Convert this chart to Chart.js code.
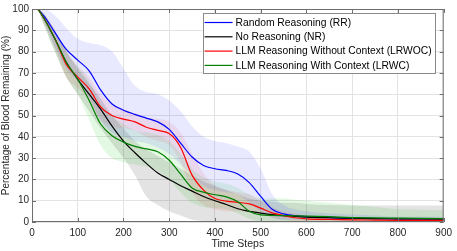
<!DOCTYPE html>
<html>
<head>
<meta charset="utf-8">
<script src="https://cdn.jsdelivr.net/npm/chart.js@4.4.1/dist/chart.umd.min.js"></script>
<style>
  html, body { margin: 0; padding: 0; background: #fff; }
</style>
</head>
<body>
<canvas id="blood-chart" width="457" height="251"></canvas>
<script>
// Time steps sampled from the figure
const steps = [0, 10, 25, 50, 75, 100, 125, 150, 175, 200, 225, 250, 275, 300, 325, 350, 375, 400, 425, 450, 475, 500, 525, 550, 575, 600, 650, 700, 750, 800, 850, 900];

// Random Reasoning (RR)
const rrMean  = [100, 100, 97, 89, 81, 76, 71, 62, 55.4, 52.5, 50.5, 48.8, 47, 43.5, 37, 30.5, 26.5, 25, 24.2, 22.5, 18.5, 12, 6, 3.8, 3, 2.5, 2, 1.8, 1.6, 1.5, 1.5, 1.5];
const rrUpper = [100, 100, 100, 97, 91, 86, 84, 83, 80, 72, 64, 61, 60, 57, 52, 45, 40, 38, 37, 35.5, 33, 25, 13, 8, 6, 5, 4, 3.5, 3, 2.5, 2.5, 2.5];
const rrLower = [100, 100, 95, 82, 72, 66, 58, 48, 42, 40, 38, 37, 35, 32, 27, 22, 17, 15, 14, 13, 9, 5, 2, 1, 1, 1, 1, 0.8, 0.8, 0.8, 0.8, 0.8];

// No Reasoning (NR)
const nrMean  = [100, 100, 96, 86, 75, 67, 60, 53, 45, 38, 32.5, 27.5, 23, 20, 17, 14.5, 12, 10, 8.2, 6.2, 5, 4.2, 3.5, 3, 2.6, 2.3, 2, 1.8, 1.6, 1.5, 1.4, 1.3];
const nrUpper = [100, 100, 98, 90, 80, 72, 65, 58, 50, 44, 38, 34, 31, 28, 25, 22, 19, 17, 15, 13, 11, 10, 9.5, 9, 9, 8.5, 8, 7.8, 7.8, 7.8, 7.8, 7.8];
const nrLower = [100, 100, 93, 80, 68, 60, 52, 44, 37, 30, 22, 12, 8, 5, 3, 1, 0.5, 0.3, 0, 0, 0, 0, 0, 0, 0, 0, 0, 0, 0, 0, 0, 0];

// LLM Reasoning Without Context (LRWOC)
const lrwocMean  = [100, 100, 96, 86, 74, 68, 62.5, 54, 50, 48.3, 47, 44.5, 43, 41.5, 35, 22, 15, 11, 9.8, 9.2, 8.5, 6.5, 4.3, 3, 2, 1.5, 1.2, 1, 0.9, 0.8, 0.8, 0.8];
const lrwocUpper = [100, 100, 98, 90, 80, 73, 68, 60, 55, 53, 51, 49, 48.5, 47, 42, 32, 23, 17, 15, 14, 13, 10, 7, 5, 4, 3, 2.5, 2.2, 2, 2, 2, 2];
const lrwocLower = [100, 100, 94, 82, 68, 63, 57, 48, 45, 44, 43, 40, 38, 36, 28, 14, 8, 6, 5, 5, 4.5, 3.5, 2, 1, 0.5, 0.3, 0.2, 0.2, 0.2, 0.2, 0.2, 0.2];

// LLM Reasoning With Context (LRWC)
const lrwcMean  = [100, 100, 96, 86, 75, 67, 57, 46, 40.5, 37.5, 35.5, 34.3, 33, 29, 22.5, 16, 14, 12.8, 11.8, 9.5, 5, 3.3, 3.1, 3, 2.9, 2.8, 2.5, 2.1, 1.9, 1.8, 1.7, 1.6];
const lrwcUpper = [100, 100, 98, 90, 80, 73, 66, 56, 50, 46, 43, 42, 41, 38, 32, 25, 21, 19, 18, 16, 13, 11, 11, 11, 10.5, 10, 9, 8, 7, 6, 5.8, 5.5];
const lrwcLower = [100, 100, 93, 80, 68, 60, 48, 36, 30, 28, 27, 26, 24, 20, 14, 9, 7, 6.5, 6, 4, 1.5, 0.5, 0.5, 0.5, 0.5, 0.5, 0.5, 0.5, 0.5, 0.5, 0.5, 0.5];

const xTicks = [0, 100, 200, 300, 400, 500, 600, 700, 800, 900];
const yTicks = [0, 10, 20, 30, 40, 50, 60, 70, 80, 90, 100];

const series = [
  { label: 'Random Reasoning (RR)', mean: rrMean, upper: rrUpper, lower: rrLower, color: '#0000ff', band: 'rgba(80, 80, 255, 0.13)' },
  { label: 'No Reasoning (NR)', mean: nrMean, upper: nrUpper, lower: nrLower, color: '#000000', band: 'rgba(0, 0, 0, 0.11)' },
  { label: 'LLM Reasoning Without Context (LRWOC)', mean: lrwocMean, upper: lrwocUpper, lower: lrwocLower, color: '#ff0000', band: 'rgba(255, 60, 60, 0.11)' },
  { label: 'LLM Reasoning With Context (LRWC)', mean: lrwcMean, upper: lrwcUpper, lower: lrwcLower, color: '#008000', band: 'rgba(40, 210, 40, 0.13)' }
];

const pts = arr => arr.map((v, i) => ({ x: steps[i], y: v }));

// build datasets: bands first (upper + lower filled to upper), then the lines
const datasets = [];
series.forEach(s => {
  const upperIdx = datasets.length;
  datasets.push({ data: pts(s.upper), borderWidth: 0, pointRadius: 0, fill: false, order: 10, cubicInterpolationMode: 'monotone' });
  datasets.push({ data: pts(s.lower), borderWidth: 0, pointRadius: 0, fill: { target: upperIdx }, backgroundColor: s.band, order: 10, cubicInterpolationMode: 'monotone' });
});
series.forEach((s, i) => {
  datasets.push({ label: s.label, data: pts(s.mean), borderColor: s.color, borderWidth: 1.2, pointRadius: 0, fill: false, order: 4 - i, cubicInterpolationMode: 'monotone' });
});

const fontFam = '"Liberation Sans", Arial, Helvetica, sans-serif';

// MATLAB style box with inward ticks
const boxPlugin = {
  id: 'boxPlugin',
  afterDraw(chart) {
    const { ctx, chartArea: a, scales } = chart;
    ctx.save();
    ctx.strokeStyle = '#6e6e6e';
    ctx.lineWidth = 1;
    ctx.strokeRect(a.left + 0.5, a.top + 0.5, a.right - a.left - 1, a.bottom - a.top - 1);
    ctx.beginPath();
    xTicks.forEach(t => {
      const px = Math.round(scales.x.getPixelForValue(t)) + 0.5;
      ctx.moveTo(px, a.bottom); ctx.lineTo(px, a.bottom - 4);
      ctx.moveTo(px, a.top); ctx.lineTo(px, a.top + 4);
    });
    yTicks.forEach(t => {
      const py = Math.round(scales.y.getPixelForValue(t)) + 0.5;
      ctx.moveTo(a.left, py); ctx.lineTo(a.left + 4, py);
      ctx.moveTo(a.right, py); ctx.lineTo(a.right - 4, py);
    });
    ctx.stroke();
    ctx.restore();
  }
};

// legend box in the top right corner of the plot
const legendPlugin = {
  id: 'legendPlugin',
  afterDraw(chart) {
    const { ctx, chartArea: a } = chart;
    ctx.save();
    ctx.font = '10.3px ' + fontFam;
    const textW = Math.max(...series.map(s => ctx.measureText(s.label).width));
    const lineLen = 28, rowH = 14.3;
    const w = 2 + lineLen + 3 + textW + 3;
    const h = rowH * series.length + 3;
    const right = a.right - 9, top = a.top + 4;
    const left = right - w;
    ctx.fillStyle = '#fff';
    ctx.fillRect(left, top, w, h);
    ctx.strokeStyle = '#8a8a8a';
    ctx.lineWidth = 1;
    ctx.strokeRect(Math.round(left) + 0.5, Math.round(top) + 0.5, Math.round(w), Math.round(h));
    ctx.textBaseline = 'middle';
    series.forEach((s, i) => {
      const y = top + 9.5 + i * rowH;
      ctx.strokeStyle = s.color;
      ctx.lineWidth = 1.2;
      ctx.beginPath();
      ctx.moveTo(left + 2, y); ctx.lineTo(left + 2 + lineLen, y);
      ctx.stroke();
      ctx.fillStyle = '#000';
      ctx.fillText(s.label, left + 2 + lineLen + 3, y + 0.5);
    });
    ctx.restore();
  }
};

const ctx = document.getElementById('blood-chart').getContext('2d');
new Chart(ctx, {
  type: 'line',
  data: { datasets: datasets },
  options: {
    responsive: false,
    animation: false,
    devicePixelRatio: 1,
    layout: { padding: { top: 5, right: 8, left: 0, bottom: 0 } },
    plugins: {
      legend: { display: false },
      tooltip: { enabled: false }
    },
    scales: {
      x: {
        type: 'linear',
        min: 0,
        max: 900,
        afterBuildTicks: s => { s.ticks = xTicks.map(v => ({ value: v })); },
        afterFit: s => { s.height = 29; },
        grid: { color: '#e3e3e3', drawTicks: false },
        border: { display: false },
        ticks: { padding: 5, color: '#262626', font: { size: 10, family: fontFam }, maxRotation: 0 },
        title: { display: true, text: 'Time Steps', color: '#262626', font: { size: 10.5, family: fontFam }, padding: { top: 0, bottom: 1 } }
      },
      y: {
        min: 0,
        max: 100,
        afterBuildTicks: s => { s.ticks = yTicks.map(v => ({ value: v })); },
        afterFit: s => { s.width = 32; },
        grid: { color: '#e3e3e3', drawTicks: false },
        border: { display: false },
        ticks: { padding: 3, color: '#262626', font: { size: 10, family: fontFam } },
        title: { display: true, text: 'Percentage of Blood Remaining (%)', color: '#262626', font: { size: 10, family: fontFam }, padding: { top: 0, bottom: 0 } }
      }
    }
  },
  plugins: [boxPlugin, legendPlugin]
});
</script>
</body>
</html>
